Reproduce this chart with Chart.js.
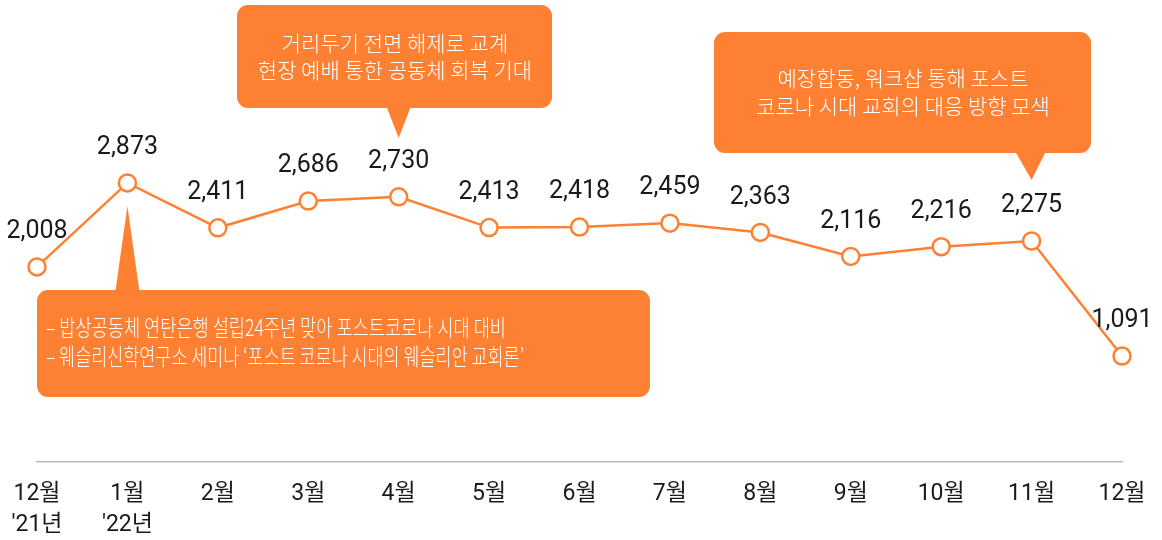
<!DOCTYPE html>
<html>
<head>
<meta charset="utf-8">
<script src="https://cdn.jsdelivr.net/npm/chart.js@4"></script>
<style>
  html, body { margin: 0; padding: 0; background: #fff; }
  #wrap { width: 1162px; height: 540px; }
</style>
</head>
<body>
<div id="wrap"><canvas id="trend-chart" width="1162" height="540"></canvas></div>
<script>
// months (two-line tick labels)
const months = [["12월", "'21년"], ["1월", "'22년"], "2월", "3월", "4월", "5월", "6월", "7월", "8월", "9월", "10월", "11월", "12월"];
const counts = [2008, 2873, 2411, 2686, 2730, 2413, 2418, 2459, 2363, 2116, 2216, 2275, 1091];

// callouts: which month the pointer goes to, and text lines
const calloutMonth = [4, 11, 1];
const calloutText = [
  ["거리두기 전면 해제로 교계", "현장 예배 통한 공동체 회복 기대"],
  ["예장합동, 워크샵 통해 포스트", "코로나 시대 교회의 대응 방향 모색"],
  ["– 밥상공동체 연탄은행 설립24주년 맞아 포스트코로나 시대 대비", "– 웨슬리신학연구소 세미나 ‘포스트 코로나 시대의 웨슬리안 교회론’"],
];

const ORANGE = "#FE8133";
const FONT = "Roboto, 'Noto Sans CJK KR', sans-serif";
const KFONT = "'Noto Sans CJK KR', 'Noto Sans', sans-serif";

function roundRect(ctx, x, y, w, h, r) {
  ctx.beginPath();
  ctx.moveTo(x + r, y);
  ctx.arcTo(x + w, y, x + w, y + h, r);
  ctx.arcTo(x + w, y + h, x, y + h, r);
  ctx.arcTo(x, y + h, x, y, r);
  ctx.arcTo(x, y, x + w, y, r);
  ctx.closePath();
}

// value labels above points
const valueLabels = {
  id: "valueLabels",
  afterDatasetsDraw(chart) {
    const ctx = chart.ctx;
    const pts = chart.getDatasetMeta(0).data;
    ctx.save();
    ctx.font = "25px " + FONT;
    ctx.fillStyle = "#1a1a1a";
    ctx.textAlign = "center";
    ctx.textBaseline = "middle";
    pts.forEach((p, i) => {
      ctx.fillText(counts[i].toLocaleString("en-US"), p.x, p.y - 35);
    });
    ctx.restore();
  },
};

// speech bubbles
const callouts = {
  id: "callouts",
  afterDraw(chart) {
    const ctx = chart.ctx;
    const pts = chart.getDatasetMeta(0).data;
    ctx.save();
    ctx.textBaseline = "middle";

    // 1: above 4월
    let tx = pts[calloutMonth[0]].x;
    ctx.fillStyle = ORANGE;
    roundRect(ctx, 237, 5, 315, 103, 11);
    ctx.fill();
    ctx.beginPath();
    ctx.moveTo(tx - 12, 107);
    ctx.lineTo(tx + 12, 107);
    ctx.lineTo(tx, 138);
    ctx.closePath();
    ctx.fill();
    ctx.font = "300 21px " + KFONT;
    ctx.fillStyle = "#fff";
    ctx.textAlign = "center";
    ctx.fillText(calloutText[0][0], 395, 43);
    ctx.fillText(calloutText[0][1], 395, 70);

    // 2: above 11월
    tx = pts[calloutMonth[1]].x;
    ctx.fillStyle = ORANGE;
    roundRect(ctx, 714, 32, 377, 121, 11);
    ctx.fill();
    ctx.beginPath();
    ctx.moveTo(tx - 16, 152);
    ctx.lineTo(tx + 14, 152);
    ctx.lineTo(tx, 180);
    ctx.closePath();
    ctx.fill();
    ctx.fillStyle = "#fff";
    ctx.fillText(calloutText[1][0], 903, 78);
    ctx.fillText(calloutText[1][1], 903, 106);

    // 3: below 1월 (condensed text)
    tx = pts[calloutMonth[2]].x;
    ctx.fillStyle = ORANGE;
    roundRect(ctx, 37, 290, 613, 107, 11);
    ctx.fill();
    ctx.beginPath();
    ctx.moveTo(tx, 206);
    ctx.lineTo(tx + 12, 291);
    ctx.lineTo(tx - 12, 291);
    ctx.closePath();
    ctx.fill();
    ctx.font = "300 23px " + KFONT;
    ctx.fillStyle = "#fff";
    ctx.textAlign = "left";
    ctx.fillText(calloutText[2][0], 46, 327, 460);
    ctx.fillText(calloutText[2][1], 46, 356, 478);

    ctx.restore();
  },
};

new Chart(document.getElementById("trend-chart"), {
  type: "line",
  data: {
    labels: months,
    datasets: [
      {
        data: counts,
        borderColor: ORANGE,
        borderWidth: 2.5,
        tension: 0,
        pointRadius: 8.5,
        pointBorderWidth: 2.5,
        pointBackgroundColor: "#fff",
        pointBorderColor: ORANGE,
      },
    ],
  },
  options: {
    responsive: false,
    animation: false,
    layout: { padding: { left: 37, right: 40, top: 122, bottom: 0 } },
    plugins: {
      legend: { display: false },
      tooltip: { enabled: false },
    },
    scales: {
      y: { display: false, min: 0, max: 3500 },
      x: {
        offset: false,
        grid: { display: false, drawTicks: false },
        border: { display: true, color: "#bbb", width: 1.5 },
        ticks: {
          color: "#1a1a1a",
          padding: 17,
          maxRotation: 0,
          autoSkip: false,
          font: { family: FONT, size: 23, lineHeight: 31 / 23 },
        },
        afterFit(scale) {
          scale.height = 78;
          scale.paddingLeft = 0;
          scale.paddingRight = 0;
        },
      },
    },
  },
  plugins: [valueLabels, callouts],
});
</script>
</body>
</html>
